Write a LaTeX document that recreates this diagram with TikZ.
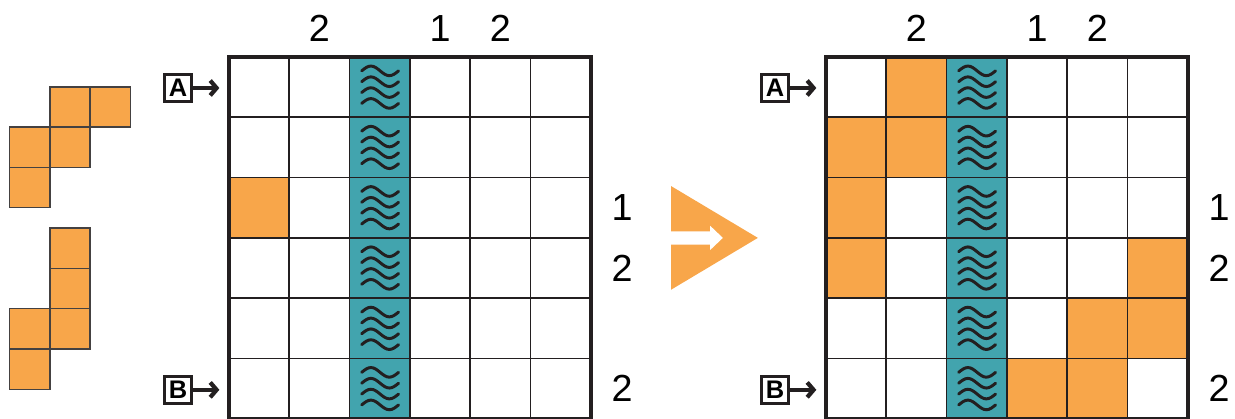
\documentclass[tikz,border=0pt]{standalone}
\usepackage{fontspec}
\setmainfont{Liberation Sans}
\usetikzlibrary{arrows.meta}

\definecolor{tileorange}{RGB}{248,166,74}
\definecolor{riverteal}{RGB}{66,164,174}
\definecolor{inkgray}{RGB}{35,31,32}

\tikzset{
  gridline/.style={line width=0.8pt, color=inkgray},
  frameline/.style={line width=1.6pt, color=inkgray},
  piececell/.style={fill=tileorange, draw=inkgray!85, line width=0.7pt},
  wave/.style={line width=1.4pt, color=inkgray, line cap=round},
  clue/.style={font=\fontsize{17.8}{20}\selectfont, inner sep=0pt},
  letterbox/.style={draw=inkgray, line width=1.5pt, minimum size=0.45cm, inner sep=0pt, font=\bfseries\fontsize{12}{13}\selectfont},
  entry/.style={-{Straight Barb[length=3pt,width=7pt]}, line width=2pt, color=inkgray}
}

% four wavy lines in a river cell
\newcommand{\riverwaves}[2]{%
  \begin{scope}[shift={(#1,#2)}]
    \foreach \k in {0,...,3}
      \draw[wave] (-0.3,0.27-0.18*\k) sin ++(0.153,0.08) cos ++(0.153,-0.08) sin ++(0.153,-0.08) cos ++(0.153,0.08);
  \end{scope}
}

\begin{document}
\begin{tikzpicture}
        \useasboundingbox (-3.798,0.945) rectangle (16.683,-5.987);

        % Pieces
        \begin{scope}[shift={(-3.64,-2.50)}, scale=0.668]
          \foreach \c/\r in {0/0,0/1,1/1,1/2,2/2}
            \filldraw[piececell] (\c,\r) rectangle ++(1,1);
        \end{scope}
        \begin{scope}[shift={(-3.64,-5.51)}, scale=0.668]
          \foreach \c/\r in {0/0,0/1,1/1,1/2,1/3}
            \filldraw[piececell] (\c,\r) rectangle ++(1,1);
        \end{scope}

        % Grids (before and after)
        \foreach \g/\sx/\cells in {L/0/{1/3}, R/9.9/{2/1,1/2,2/2,1/3,1/4,6/4,5/5,6/5,4/6,5/6}} {
          \begin{scope}[shift={(\sx,0)}]
            \foreach \c/\r in \cells
              \fill[tileorange] (\c-1,-\r) rectangle ++(1,1);
            \fill[riverteal] (2,0) rectangle (3,-6);
            \foreach \r in {1,...,6}
              \riverwaves{2.5}{-\r+0.5}
            \draw[gridline] (0,-6) grid (6,0);
            \draw[frameline] (0,-6) rectangle (6,0);

            % Clues
            \node[clue] (top2-\g) at (1.5,0.48) {2};
            \node[clue] (top4-\g) at (3.5,0.48) {1};
            \node[clue] (top5-\g) at (4.5,0.48) {2};
            \node[clue] (side3-\g) at (6.52,-2.5) {1};
            \node[clue] (side4-\g) at (6.52,-3.5) {2};
            \node[clue] (side6-\g) at (6.52,-5.5) {2};

            % Entries
            \node[letterbox] (A-\g) at (-0.846,-0.514) {A};
            \coordinate (Ain-\g) at (-0.16,-0.514);
            \draw[entry] (A-\g) -- (Ain-\g);
            \node[letterbox] (B-\g) at (-0.846,-5.52) {B};
            \coordinate (Bin-\g) at (-0.16,-5.52);
            \draw[entry] (B-\g) -- (Bin-\g);
          \end{scope}
        }

        % Big arrow
        \fill[tileorange] (7.33,-2.14) -- (8.77,-3.0) -- (7.33,-3.86) -- cycle;
        \fill[white] (7.33,-2.89) -- (7.98,-2.89) -- (7.98,-2.80) -- (8.19,-3.0) -- (7.98,-3.20) -- (7.98,-3.11) -- (7.33,-3.11) -- cycle;

\end{tikzpicture}
\end{document}
